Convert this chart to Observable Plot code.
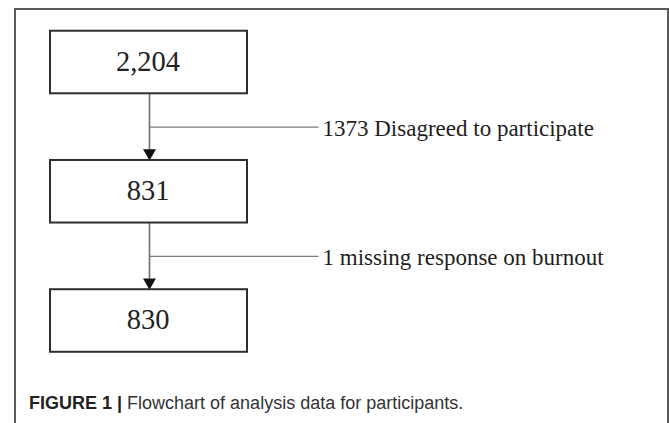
<!DOCTYPE html>
<html>
<head>
<meta charset="utf-8">
<script src="https://cdn.jsdelivr.net/npm/d3@7"></script>
<script src="https://cdn.jsdelivr.net/npm/@observablehq/plot@0.6"></script>
<style>
  html, body { margin: 0; padding: 0; background: #fff; }
  #wrap { position: relative; width: 669px; height: 423px; overflow: hidden; }
  #frame { position: absolute; left: 14px; top: 8px; width: 655px; height: 500px;
           box-sizing: border-box; border: 2px solid #5a5a5a; pointer-events: none; }
  #chart svg { display: block; }
  #caption { font-family: "Liberation Sans", Arial, Helvetica, sans-serif; font-size: 18px;
             line-height: 22px; padding-left: 29px; color: #333; white-space: nowrap; }
  #caption b { color: #222; }
</style>
</head>
<body>
<div id="wrap">
  <div id="chart"></div>
  <div id="caption"><b>FIGURE 1 |</b> Flowchart of analysis data for participants.</div>
  <div id="frame"></div>
</div>
<script>
// Data
const stages = ["2,204", "831", "830"];
const exclusions = ["1373 Disagreed to participate", "1 missing response on burnout"];

// Layout (in scale units: x ~ pixels, y ~ stage steps)
const boxX1 = 50, boxX2 = 247, flowX = 149, branchEnd = 318, labelX = 322;
const half = 0.242; // box half-height in steps

const boxes = stages.map((label, i) => ({ label, i }));
const gaps = exclusions.map((label, i) => ({ label, i }));

const plot = Plot.plot({
  width: 669,
  height: 392,
  margin: 0,
  x: { domain: [0, 669], range: [0, 669], axis: null },
  y: { domain: [0, 2], range: [62, 320.5], axis: null },
  marks: [
    // vertical connectors
    Plot.link(gaps, {
      x1: flowX, x2: flowX,
      y1: d => d.i + half, y2: d => d.i + 1 - half,
      stroke: "#6f6f6f", strokeWidth: 1.6
    }),
    // branch lines
    Plot.link(gaps, {
      x1: flowX, x2: branchEnd,
      y1: d => d.i + 0.5, y2: d => d.i + 0.5,
      stroke: "#7a7a7a", strokeWidth: 1.4
    }),
    // arrowheads
    Plot.dot(gaps, {
      x: flowX, y: d => d.i + 1 - half,
      symbol: "triangle", rotate: 180, r: 4.8, dy: -7.5,
      fill: "#111", stroke: "none"
    }),
    // boxes
    Plot.rect(boxes, {
      x1: boxX1, x2: boxX2,
      y1: d => d.i - half, y2: d => d.i + half,
      fill: "white", stroke: "#2e2e2e", strokeWidth: 2
    }),
    Plot.text(boxes, {
      x: (boxX1 + boxX2) / 2 - 1, y: "i", text: "label",
      fontFamily: "Liberation Serif, Times New Roman, serif", fontSize: 28.5,
      fill: "#222", textAnchor: "middle", lineAnchor: "middle", dy: -1
    }),
    // exclusion labels
    Plot.text(gaps, {
      x: labelX, y: d => d.i + 0.5, text: "label",
      fontFamily: "Liberation Serif, Times New Roman, serif", fontSize: 23,
      fill: "#1e1e1e", textAnchor: "start", lineAnchor: "middle", dy: 1
    })
  ]
});
document.getElementById("chart").appendChild(plot);
</script>
</body>
</html>
